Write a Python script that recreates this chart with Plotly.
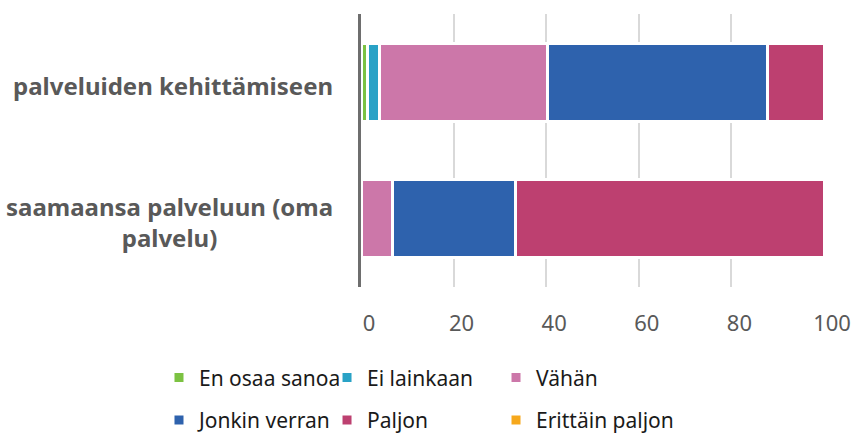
import plotly.graph_objects as go

categories = ["palveluiden kehittämiseen", "saamaansa palveluun (oma<br>palvelu)"]
series_names = ["En osaa sanoa", "Ei lainkaan", "Vähän", "Jonkin verran", "Paljon", "Erittäin paljon"]
en_osaa_sanoa = [1.3, 0.0]
ei_lainkaan = [2.7, 0.0]
vahan = [36.3, 6.7]
jonkin_verran = [47.4, 26.6]
paljon = [12.3, 66.7]
erittain_paljon = [0.0, 0.0]
series_values = [en_osaa_sanoa, ei_lainkaan, vahan, jonkin_verran, paljon, erittain_paljon]
colors = ["#7cc242", "#29a2c6", "#cc77a9", "#2e62ad", "#bd4070", "#f6a81c"]
x_ticks = [0, 20, 40, 60, 80, 100]

legend_ids = ["legend", "legend2", "legend3"]

fig = go.Figure()
for i, (name, vals, col) in enumerate(zip(series_names, series_values, colors)):
    fig.add_trace(go.Bar(
        y=categories, x=vals, name=name, orientation="h",
        marker=dict(color=col, line=dict(color="white", width=3)),
        legend=legend_ids[i % 3], legendgroup="g%d" % i,
        hoverinfo="skip",
    ))

for cat in categories:
    fig.add_annotation(
        x=0, xref="paper", y=cat, yref="y", text="<b>%s</b>" % cat,
        xanchor="right", xshift=-26, yshift=-3, align="center", showarrow=False,
        font=dict(family="Noto Sans", size=24, color="#595959"),
    )

legend_common = dict(
    orientation="v", xanchor="left", yanchor="middle", y=-0.41,
    font=dict(family="Noto Sans", size=21, color="#1a1a1a"),
    traceorder="grouped", tracegroupgap=12,
    bgcolor="rgba(0,0,0,0)",
)

fig.update_layout(
    width=854, height=434,
    margin=dict(l=361, r=30, t=14, b=147, autoexpand=False),
    barmode="stack", bargap=0.43,
    plot_bgcolor="white", paper_bgcolor="white",
    showlegend=True,
    legend=dict(x=-0.4363, **legend_common),
    legend2=dict(x=-0.0734, **legend_common),
    legend3=dict(x=0.2916, **legend_common),
    xaxis=dict(
        range=[0, 100], tickvals=x_ticks, showgrid=True, gridcolor="#d9d9d9", gridwidth=2,
        zeroline=False, showline=False, ticks="",
        tickfont=dict(family="Noto Sans", size=22, color="#595959"),
        ticklabelshift=8, ticklabelstandoff=21,
    ),
    yaxis=dict(
        autorange="reversed", showticklabels=False, showgrid=False, zeroline=False,
        showline=True, linecolor="#6e6e6e", linewidth=3, ticks="",
    ),
)

fig.write_html("out.html", config={"displayModeBar": False},
               post_script="document.body.style.margin='0';")
